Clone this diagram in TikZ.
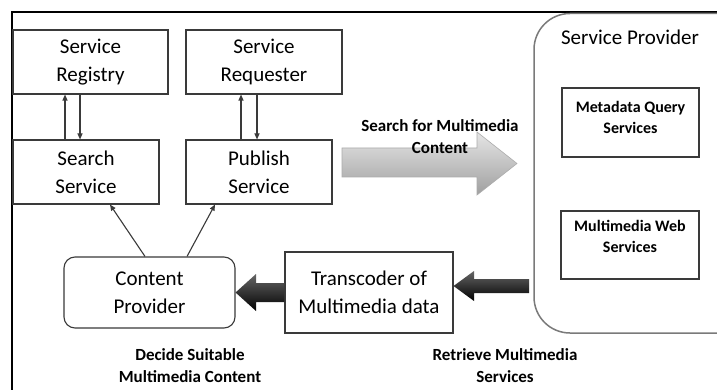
\documentclass[tikz,border=0pt]{standalone}
\usepackage{fontspec}
\setmainfont{Carlito}
\usetikzlibrary{arrows.meta}
\definecolor{boxgray}{HTML}{3A3A3A}
\definecolor{spgray}{HTML}{7A7A7A}
\begin{document}
\begin{tikzpicture}[x=1pt,y=-1pt,
  box/.style={draw=boxgray, line width=1.1pt, fill=white, inner sep=0pt,
    align=center, font=\fontsize{21}{28}\selectfont},
  innerbox/.style={draw=boxgray, line width=1.1pt, fill=white, inner sep=0pt},
  innertext/.style={align=center, inner sep=0pt, font=\bfseries\fontsize{16}{21}\selectfont},
  caption/.style={align=center, inner sep=0pt, font=\bfseries\fontsize{17}{22}\selectfont},
  thinarrow/.style={draw=boxgray, line width=1.1pt, -{Triangle[length=6pt,width=5pt]}},
]
\useasboundingbox (0,0) rectangle (717,390);
\clip (0,0) rectangle (717,390);
\fill[white] (0,0) rectangle (717,390);

% outer frame (only top and left edges are visible)
\draw[black, line width=2.2pt] (12,400) -- (12,12) -- (730,12);

% service provider container
\draw[spgray, line width=1.5pt, fill=white, rounded corners=36pt] (534,13.5) rectangle (760,333);
\node[font=\fontsize{21}{28}\selectfont, inner sep=0pt] (sptitle) at (630,37) {Service Provider};

\node[innerbox, minimum width=137pt, minimum height=69pt] (meta) at (630.5,122.5) {};
\node[innertext] (metatext) at (630.5,117) {Metadata Query\\Services};
\node[innerbox, minimum width=138pt, minimum height=68pt] (mmweb) at (630,245) {};
\node[innertext] (mmwebtext) at (630,236) {Multimedia Web\\Services};

% service boxes
\node[box, minimum width=155pt, minimum height=64pt] (reg) at (90.5,62) {Service\\Registry};
\node[box, minimum width=156pt, minimum height=64pt] (req) at (264,62) {Service\\Requester};
\node[box, minimum width=146pt, minimum height=64pt] (search) at (86,172) {Search\\Service};
\node[box, minimum width=146pt, minimum height=64pt] (publish) at (259,172) {Publish\\Service};
\node[box, rounded corners=11pt, minimum width=171pt, minimum height=71pt] (content) at (149.5,292.5) {Content\\Provider};
\node[box, minimum width=168pt, minimum height=81pt] (trans) at (369,292.5) {Transcoder of\\Multimedia data};

% request / response links
\draw[thinarrow] (search.north -| 65,0) -- (reg.south -| 65,0);
\draw[thinarrow] (reg.south -| 80,0) -- (search.north -| 80,0);
\draw[thinarrow] (publish.north -| 241,0) -- (req.south -| 241,0);
\draw[thinarrow] (req.south -| 257,0) -- (publish.north -| 257,0);
\draw[thinarrow] (content.north -| 145,0) -- (search.south -| 110,0);
\draw[thinarrow] (content.north -| 187,0) -- (publish.south -| 215,0);

% block arrows
\shade[top color=gray!20, bottom color=gray!75, draw=gray!65, line width=0.6pt]
  (342,148) -- (477,148) -- (477,132) -- (517,163.5) -- (477,195) -- (477,177) -- (342,177) -- cycle;
\shade[top color=gray!80!black, middle color=black, bottom color=black]
  (trans.west |- 0,283) -- (256,283) -- (256,274) -- (content.east |- 0,292.5) -- (256,311) -- (256,302) -- (trans.west |- 0,302) -- cycle;
\shade[top color=gray!80!black, middle color=black, bottom color=black]
  (529,279) -- (474,279) -- (474,271) -- (trans.east |- 0,286) -- (474,301) -- (474,293) -- (529,293) -- cycle;

% captions
\node[caption] (searchlbl) at (440,137) {Search for Multimedia\\Content};
\node[caption] (decidelbl) at (190,366) {Decide Suitable\\Multimedia Content};
\node[caption] (retrievelbl) at (505,366) {Retrieve Multimedia\\Services};
\end{tikzpicture}
\end{document}
